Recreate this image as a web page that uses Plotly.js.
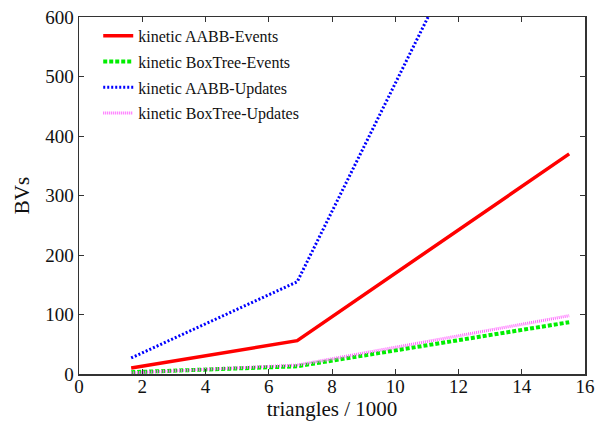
<!DOCTYPE html>
<html>
<head>
<meta charset="utf-8">
<script src="https://cdn.plot.ly/plotly-3.0.1.min.js"></script>
<style>html,body{margin:0;padding:0;background:#fff;}#chart{width:601px;height:424px;}</style>
</head>
<body>
<div id="chart"></div>
<script>
const triangles = [1.65, 6.9, 15.5];
const aabbEvents = [10, 56, 370];
const boxTreeEvents = [3, 13, 87];
const aabbUpdates = [27, 155, 1080];
const boxTreeUpdates = [2, 15, 98];
const seriesNames = ["kinetic AABB-Events", "kinetic BoxTree-Events", "kinetic AABB-Updates", "kinetic BoxTree-Updates"];
const xTicks = [0, 2, 4, 6, 8, 10, 12, 14, 16];
const yTicks = [0, 100, 200, 300, 400, 500, 600];

const font = "Liberation Serif, DejaVu Serif, serif";
const traces = [
  {x: triangles, y: aabbEvents, name: seriesNames[0], legendgroup: "a",
   line: {color: "#ff0000", width: 3.5, dash: "solid"}},
  {x: triangles, y: boxTreeEvents, name: seriesNames[1], legendgroup: "b",
   line: {color: "#00ee00", width: 4, dash: "4px,2px"}},
  {x: triangles, y: aabbUpdates, name: seriesNames[2], legendgroup: "c",
   line: {color: "#0000ff", width: 3, dash: "2px,2px"}},
  {x: triangles, y: boxTreeUpdates, name: seriesNames[3], legendgroup: "d",
   line: {color: "#ff66ff", width: 3, dash: "1px,1px"}}
].map(t => Object.assign({type: "scatter", mode: "lines"}, t));

const axisCommon = {
  showgrid: false, zeroline: false, showline: true, mirror: "ticks",
  linecolor: "#333", linewidth: 1.5, ticks: "inside", ticklen: 5,
  tickcolor: "#333", tickfont: {family: font, size: 19, color: "#111"}
};

const layout = {
  width: 601, height: 424,
  margin: {l: 79, r: 16, t: 17, b: 50},
  paper_bgcolor: "#fff", plot_bgcolor: "#fff",
  showlegend: true,
  legend: {x: 0.038, y: 0.995, xanchor: "left", yanchor: "top",
           bgcolor: "rgba(0,0,0,0)", borderwidth: 0,
           font: {family: font, size: 16, color: "#111"},
           tracegroupgap: 2},
  xaxis: Object.assign({}, axisCommon, {
    range: [0, 16], tickvals: xTicks, ticktext: xTicks.map(String),
    ticklabelstandoff: -5,
    title: {text: "triangles / 1000", font: {family: font, size: 21, color: "#111"}, standoff: 0}
  }),
  yaxis: Object.assign({}, axisCommon, {
    range: [0, 600], tickvals: yTicks, ticktext: yTicks.map(String),
    title: {text: "BVs", font: {family: font, size: 21, color: "#111"}, standoff: 10}
  })
};

Plotly.newPlot("chart", traces, layout, {displayModeBar: false, staticPlot: true});
</script>
</body>
</html>
